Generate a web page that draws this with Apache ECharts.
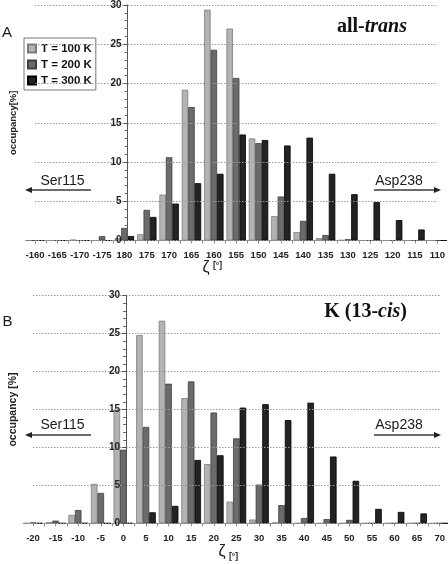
<!DOCTYPE html>
<html><head><meta charset="utf-8">
<script src="https://cdn.jsdelivr.net/npm/echarts@6/dist/echarts.min.js"></script>
<style>html,body{margin:0;padding:0;background:#fff}#c{width:448px;height:564px}</style>
</head><body><div id="c"></div>
<script>
// ---- data ----
const seriesNames = ['T = 100 K', 'T = 200 K', 'T = 300 K'];
const catsA = ['-160','-165','-170','-175','180','175','170','165','160','155','150','145','140','135','130','125','120','115','110'];
const lightA = [0, 0, 0.1, 0, 0.3, 0.8, 5.85, 19.2, 29.4, 27.0, 13.0, 3.1, 1.08, 0.3, 0.05, 0, 0, 0, 0];
const greyA  = [0, 0, 0, 0.55, 1.6, 3.9, 10.6, 17.0, 24.3, 20.7, 12.4, 5.6, 2.5, 0.7, 0.15, 0, 0, 0, 0];
const blackA = [0, 0, 0, 0, 0.57, 3.0, 4.7, 7.3, 8.5, 13.5, 12.8, 12.1, 13.1, 8.5, 5.9, 4.9, 2.6, 1.4, 0];
const catsB = ['-20','-15','-10','-5','0','5','10','15','20','25','30','35','40','45','50','55','60','65','70'];
const lightB = [0, 0.15, 1.1, 5.2, 14.95, 24.8, 26.7, 16.5, 7.8, 2.85, 0.5, 0.1, 0, 0, 0, 0, 0, 0, 0];
const greyB  = [0.1, 0.35, 1.75, 4.0, 9.7, 12.7, 18.4, 18.7, 14.6, 11.2, 5.1, 2.4, 0.7, 0.55, 0.45, 0, 0, 0, 0];
const blackB = [0, 0, 0, 0, 0, 1.45, 2.3, 8.35, 8.97, 15.25, 15.7, 13.6, 15.9, 8.8, 5.6, 1.9, 1.5, 1.3, 0];
const yMin = 0, yMax = 30, yStep = 5;
const crossA = '180', crossB = '0';

// ---- layout / style ----
const W = 448;
const SANS = 'Liberation Sans, Arial, sans-serif';
const SERIF = 'Liberation Serif, Times New Roman, serif';
const gA = {left: 25, right: 6, top: 3.5, height: 237};
const gB = {left: 23, right: 6, top: 295.7, height: 227.6};
const fills = ['#b3b3b3', '#6b6b6b', '#232323'];
const borders = ['#7c7c7c', '#3e3e3e', '#000000'];

function crossOffset(g, cats, c) {
  const w = W - g.left - g.right;
  return -(w / (cats.length - 1)) * cats.indexOf(c);
}
function xMain(gi, cats) {
  return {
    type: 'category', gridIndex: gi, data: cats, boundaryGap: false, position: 'bottom',
    axisLine: {lineStyle: {color: '#8a8a8a', width: 1}},
    axisTick: {show: false},
    axisLabel: {interval: 0, margin: 10, fontFamily: SANS, fontWeight: 'bold', fontSize: 9.5, color: '#222'},
    splitLine: {show: false}
  };
}
function xTicks(gi, cats) {
  const d = [];
  for (let i = 0; i < cats.length * 2 - 1; i++) d.push(String(i));
  return {
    type: 'category', gridIndex: gi, data: d, boundaryGap: false, position: 'bottom',
    axisLine: {show: false}, axisLabel: {show: false}, splitLine: {show: false},
    axisTick: {show: true, interval: 0, length: 3, lineStyle: {color: '#8a8a8a'}}
  };
}
function yAx(gi, offset, name, nameGap, nameSize) {
  return {
    type: 'value', gridIndex: gi, min: yMin, max: yMax, interval: yStep, offset: offset, z: 5,
    name: name, nameLocation: 'middle', nameGap: nameGap,
    nameTextStyle: {fontFamily: SANS, fontWeight: 'bold', fontSize: nameSize, color: '#222'},
    axisLine: {show: true, lineStyle: {color: '#555', width: 1}},
    axisTick: {show: true, length: 4, lineStyle: {color: '#555'}},
    minorTick: {show: true, splitNumber: 5, length: 3, lineStyle: {color: '#666'}},
    axisLabel: {margin: 6, fontFamily: SANS, fontWeight: 'bold', fontSize: 10, color: '#222'},
    splitLine: {show: true, lineStyle: {type: [1.5, 1.5], color: '#9a9a9a', width: 1}}
  };
}
function bars(xi, yi, arrs) {
  return arrs.map((a, k) => ({
    name: seriesNames[k], type: 'bar', xAxisIndex: xi, yAxisIndex: yi, data: a,
    barGap: '0%', barCategoryGap: '13%',
    itemStyle: {color: fills[k], borderColor: borders[k], borderWidth: 0.8},
    emphasis: {disabled: true}, animation: false
  }));
}
function arrow(x1, x2, y, dir) {
  const tip = dir < 0 ? x1 : x2;
  const base = tip - dir * 7;
  return [
    {type: 'line', shape: {x1: dir < 0 ? base : x1, y1: y, x2: dir < 0 ? x2 : base, y2: y}, style: {stroke: '#3a3a3a', lineWidth: 1.4}},
    {type: 'polygon', shape: {points: [[tip, y], [base, y - 3], [base, y + 3]]}, style: {fill: '#222'}}
  ];
}
function txt(x, y, text, font, align, extra) {
  return Object.assign({type: 'text', x: x, y: y, style: {text: text, font: font, fill: '#1a1a1a', align: align || 'center', verticalAlign: 'middle'}}, extra || {});
}
const offA = crossOffset(gA, catsA, crossA);
const offB = crossOffset(gB, catsB, crossB);
const axPosA = gA.left - offA, axPosB = gB.left - offB;

const option = {
  animation: false,
  backgroundColor: '#fff',
  grid: [gA, gB],
  xAxis: [xMain(0, catsA), xTicks(0, catsA), xMain(1, catsB), xTicks(1, catsB)],
  yAxis: [yAx(0, offA, 'occupancy[%]', axPosA - 8, 9.5), yAx(1, offB, 'occupancy [%]', axPosB - 9, 10.5)],
  legend: {
    data: seriesNames, orient: 'vertical', left: 24, top: 38,
    backgroundColor: '#fff', borderColor: '#777', borderWidth: 1, padding: [4, 4, 3, 3],
    itemWidth: 8, itemHeight: 8, itemGap: 3, icon: 'rect', selectedMode: false,
    textStyle: {fontFamily: SANS, fontWeight: 'bold', fontSize: 11.5, color: '#111', lineHeight: 13}
  },
  series: [].concat(bars(0, 0, [lightA, greyA, blackA]), bars(2, 1, [lightB, greyB, blackB])),
  graphic: [].concat(
    [
      txt(7, 33, 'A', '15px ' + SANS),
      txt(7.5, 322, 'B', '15px ' + SANS),
      {type: 'text', x: 407, y: 27, style: {text: '{n|all-}{i|trans}', align: 'right', verticalAlign: 'middle',
        rich: {n: {font: 'bold 20px ' + SERIF, fill: '#111'}, i: {font: 'italic bold 20px ' + SERIF, fill: '#111'}}}},
      {type: 'text', x: 407, y: 312, style: {text: '{n|K (13-}{i|cis}{n|)}', align: 'right', verticalAlign: 'middle',
        rich: {n: {font: 'bold 20px ' + SERIF, fill: '#111'}, i: {font: 'italic bold 20px ' + SERIF, fill: '#111'}}}},
      txt(62.5, 181.5, 'Ser115', '14px ' + SANS),
      txt(399, 181.5, 'Asp238', '14px ' + SANS),
      txt(62.5, 425.5, 'Ser115', '14px ' + SANS),
      txt(399, 425.5, 'Asp238', '14px ' + SANS),
      txt(206, 268, 'ζ', '16px ' + SANS),
      txt(217.5, 266, '[°]', 'bold 8.5px ' + SANS),
      txt(222, 552, 'ζ', '16px ' + SANS),
      txt(233.5, 557, '[°]', 'bold 8.5px ' + SANS)
    ],
    arrow(25, 91, 190, -1), arrow(374, 441, 190, 1),
    arrow(25, 91, 435, -1), arrow(374, 441, 435, 1)
  )
};
const chart = echarts.init(document.getElementById('c'), null, {renderer: 'canvas'});
chart.setOption(option);
</script>
</body></html>
